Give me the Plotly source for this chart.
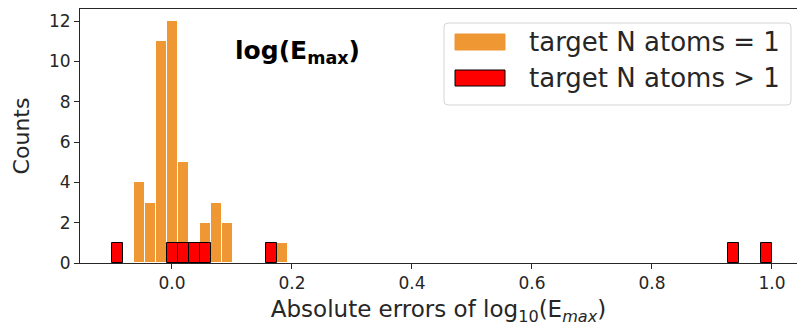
import plotly.graph_objects as go

# Shared histogram bins (width of one bin, in data units)
BIN_WIDTH = 0.01834

# Systems whose target has a single N atom: bin centres and counts
single_centers = [-0.0547, -0.0363, -0.0180, 0.0004, 0.0187, 0.0370, 0.0554, 0.0737, 0.0921, 0.1838]
single_counts = [4, 3, 11, 12, 5, 0, 2, 3, 2, 1]

# Systems whose target has more than one N atom
multi_centers = [-0.0913, 0.0004, 0.0187, 0.0370, 0.0554, 0.1654, 0.9357, 0.9907]
multi_counts = [1, 1, 1, 1, 1, 1, 1, 1]

x_ticks = [0.0, 0.2, 0.4, 0.6, 0.8, 1.0]
y_ticks = [0, 2, 4, 6, 8, 10, 12]

series_names = ["target N atoms = 1", "target N atoms > 1"]

W, H = 797, 326
ML, MR, MT, MB = 80, 0, 9, 63
PW, PH = W - ML - MR, H - MT - MB

ORANGE = "#EE9733"
RED = "#FF0000"
INK = "#262626"
FONT = "DejaVu Sans"


def fx(p):
    """Horizontal pixel -> paper fraction."""
    return (p - ML) / PW


def fy(p):
    """Vertical pixel (from top) -> paper fraction."""
    return (H - MB - p) / PH


fig = go.Figure()
fig.add_trace(go.Bar(
    x=single_centers, y=single_counts, width=BIN_WIDTH,
    name=series_names[0],
    marker=dict(color=ORANGE, line=dict(color="white", width=1)),
))
fig.add_trace(go.Bar(
    x=multi_centers, y=multi_counts, width=BIN_WIDTH,
    name=series_names[1],
    marker=dict(color=RED, line=dict(color="black", width=1)),
))

# Legend drawn as a framed box with wide colour patches
shapes = []
bx0, bx1, by0, by1, r = 444, 791, 23, 105, 4
path = (
    f"M{fx(bx0 + r)},{fy(by0)} L{fx(bx1 - r)},{fy(by0)} "
    f"Q{fx(bx1)},{fy(by0)} {fx(bx1)},{fy(by0 + r)} "
    f"L{fx(bx1)},{fy(by1 - r)} Q{fx(bx1)},{fy(by1)} {fx(bx1 - r)},{fy(by1)} "
    f"L{fx(bx0 + r)},{fy(by1)} Q{fx(bx0)},{fy(by1)} {fx(bx0)},{fy(by1 - r)} "
    f"L{fx(bx0)},{fy(by0 + r)} Q{fx(bx0)},{fy(by0)} {fx(bx0 + r)},{fy(by0)} Z"
)
shapes.append(dict(type="path", xref="paper", yref="paper", path=path,
                   fillcolor="rgba(255,255,255,0.85)", line=dict(color="#D5D5D5", width=1)))

annotations = []
row_centers = [42, 78]
for tr, yc in zip(fig.data, row_centers):
    edge = tr.marker.line.color if tr.marker.line.color != "white" else tr.marker.color
    shapes.append(dict(
        type="rect", xref="paper", yref="paper",
        x0=fx(455), x1=fx(505), y0=fy(yc - 8), y1=fy(yc + 8),
        fillcolor=tr.marker.color, line=dict(color=edge, width=1),
    ))
    annotations.append(dict(
        x=fx(527), y=fy(yc), xref="paper", yref="paper",
        xanchor="left", yanchor="middle", showarrow=False,
        text=tr.name, font=dict(family=FONT, size=26, color=INK),
    ))

# In-panel title
annotations.append(dict(
    x=fx(297), y=fy(52), xref="paper", yref="paper",
    xanchor="center", yanchor="middle", showarrow=False,
    text="<b>log(E<sub>max</sub>)</b>",
    font=dict(family=FONT, size=25, color="black"),
))

fig.update_layout(
    width=W, height=H,
    margin=dict(l=ML, r=MR, t=MT, b=MB, autoexpand=False),
    paper_bgcolor="white", plot_bgcolor="white",
    barmode="overlay", bargap=0,
    showlegend=False,
    font=dict(family=FONT, color=INK),
    shapes=shapes, annotations=annotations,
)
fig.update_xaxes(
    range=[-0.1533, 1.0417],
    tickvals=x_ticks, ticktext=[f"{v:.1f}" for v in x_ticks],
    ticks="outside", ticklen=5, tickwidth=1, tickcolor=INK,
    tickfont=dict(size=17, color=INK),
    showline=True, linecolor=INK, linewidth=1, mirror=True,
    showgrid=False, zeroline=False,
    title=dict(text="Absolute errors of log<sub>10</sub>(E<sub><i>max</i></sub>)",
               font=dict(size=23, color=INK), standoff=8),
)
fig.update_yaxes(
    range=[0, 12.6],
    tickvals=y_ticks,
    ticks="outside", ticklen=5, tickwidth=1, tickcolor=INK,
    tickfont=dict(size=17, color=INK),
    showline=True, linecolor=INK, linewidth=1,
    showgrid=False, zeroline=False,
    title=dict(text="Counts", font=dict(size=22, color=INK), standoff=13),
)

fig.write_html("out.html")
